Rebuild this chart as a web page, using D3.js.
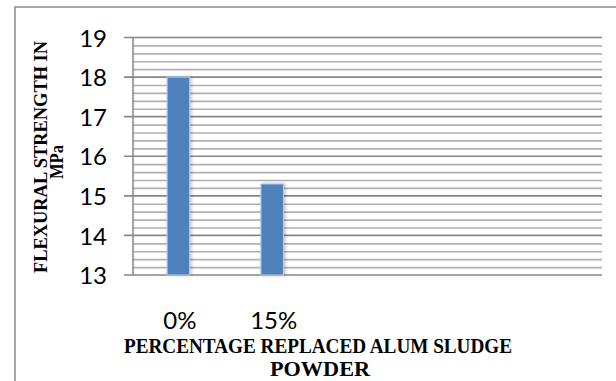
<!DOCTYPE html>
<html>
<head>
<meta charset="utf-8">
<script src="https://cdn.jsdelivr.net/npm/d3@7"></script>
<style>
html,body{margin:0;padding:0;background:#fff;}
svg{display:block;}
</style>
</head>
<body>
<svg id="chart" width="616" height="381"></svg>
<script>
// ---- data ----
const categories = ["0%", "15%", "", "", ""];
const values = [18.0, 15.3];
const yTicks = [13, 14, 15, 16, 17, 18, 19];
const yTitleLines = ["FLEXURAL STRENGTH IN", "MPa"];
const xTitleLines = ["PERCENTAGE REPLACED ALUM SLUDGE", "POWDER"];

// ---- layout ----
const plot = {left: 133, right: 602, top: 37.5, bottom: 275};
const svg = d3.select("#chart");

// outer border
svg.append("rect").attr("x", 15).attr("y", 7).attr("width", 640).attr("height", 400)
  .attr("fill", "none").attr("stroke", "#8a8a8a").attr("stroke-width", 1.5);

const x = d3.scaleBand().domain(d3.range(categories.length)).range([plot.left, plot.right]);
const y = d3.scaleLinear().domain([13, 19]).range([plot.bottom, plot.top]);

// minor gridlines (every 0.2)
const minor = d3.range(13, 19.0001, 0.2).map(v => +v.toFixed(1)).filter(v => Math.abs(v - Math.round(v)) > 1e-6);
const g = svg.append("g");
g.selectAll("line.minor").data(minor).join("line")
  .attr("x1", plot.left).attr("x2", plot.right)
  .attr("y1", d => y(d) + 0.5).attr("y2", d => y(d) + 0.5)
  .attr("stroke", "#b0b0b0").attr("stroke-width", 1.6);
g.selectAll("line.major").data(yTicks).join("line")
  .attr("x1", plot.left - 9).attr("x2", plot.right)
  .attr("y1", d => y(d)).attr("y2", d => y(d))
  .attr("stroke", "#868686").attr("stroke-width", 1.6);

// y axis line
svg.append("line").attr("x1", plot.left).attr("x2", plot.left)
  .attr("y1", plot.top).attr("y2", plot.bottom)
  .attr("stroke", "#868686").attr("stroke-width", 1.5);

// y axis labels
const yAxis = d3.axisLeft(y).tickValues(yTicks).tickSize(0).tickPadding(0).tickFormat(d3.format("d"));
const ya = svg.append("g").attr("transform", `translate(${107},0)`).call(yAxis);
ya.select(".domain").remove();
ya.selectAll("text").attr("font-family", "Lato, 'Open Sans', sans-serif")
  .attr("font-size", 24).attr("fill", "#000").attr("dy", "0.36em");

// bars
const barW = 22.6;
const defs = svg.append("defs");
const f = defs.append("filter").attr("id", "sh").attr("x", "-30%").attr("y", "-10%").attr("width", "160%").attr("height", "120%");
f.append("feDropShadow").attr("dx", 1.5).attr("dy", 0).attr("stdDeviation", 1.5).attr("flood-color", "#000").attr("flood-opacity", 0.25);
svg.selectAll("rect.bar").data(values).join("rect")
  .attr("class", "bar")
  .attr("x", (d, i) => x(i) + x.bandwidth() / 2 - barW / 2 - 1.5)
  .attr("width", barW)
  .attr("y", d => y(d))
  .attr("height", d => y(13) - y(d))
  .attr("fill", "#4f81bd")
  .attr("stroke", "#b9cde6").attr("stroke-width", 1)
  .attr("filter", "url(#sh)");

// x category labels
svg.selectAll("text.cat").data(categories).join("text")
  .attr("class", "cat")
  .attr("x", (d, i) => x(i) + x.bandwidth() / 2)
  .attr("y", 329)
  .attr("text-anchor", "middle")
  .attr("font-family", "Lato, 'Open Sans', sans-serif")
  .attr("font-size", 24)
  .attr("fill", "#000")
  .text(d => d);

// x title
const serif = "'Liberation Serif', 'Times New Roman', serif";
svg.append("text").attr("x", 318).attr("y", 353).attr("text-anchor", "middle")
  .attr("font-family", serif).attr("font-weight", "bold").attr("font-size", 22)
  .attr("textLength", 388).attr("lengthAdjust", "spacingAndGlyphs")
  .text(xTitleLines[0]);
svg.append("text").attr("x", 320).attr("y", 376).attr("text-anchor", "middle")
  .attr("font-family", serif).attr("font-weight", "bold").attr("font-size", 21)
  .attr("textLength", 100).attr("lengthAdjust", "spacingAndGlyphs")
  .text(xTitleLines[1]);

// y title
svg.append("text").attr("transform", "translate(47,157) rotate(-90)").attr("text-anchor", "middle")
  .attr("font-family", serif).attr("font-weight", "bold").attr("font-size", 19.5)
  .attr("textLength", 232).attr("lengthAdjust", "spacingAndGlyphs")
  .text(yTitleLines[0]);
svg.append("text").attr("transform", "translate(63,162) rotate(-90)").attr("text-anchor", "middle")
  .attr("font-family", serif).attr("font-weight", "bold").attr("font-size", 19.5)
  .attr("textLength", 34).attr("lengthAdjust", "spacingAndGlyphs")
  .text(yTitleLines[1]);
</script>
</body>
</html>
